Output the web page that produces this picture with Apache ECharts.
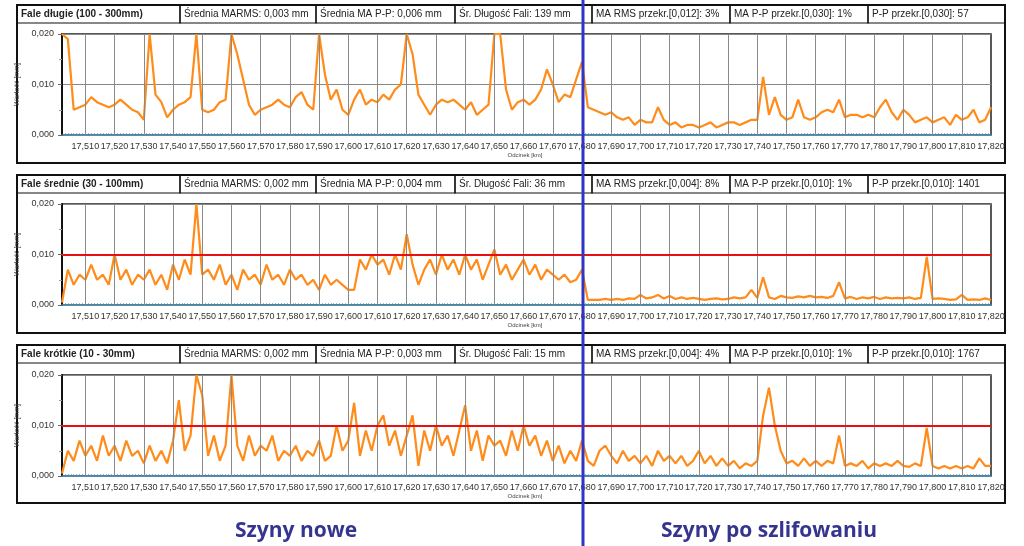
<!DOCTYPE html>
<html>
<head>
<meta charset="UTF-8"/>
<script src="https://cdn.jsdelivr.net/npm/echarts@6/dist/echarts.min.js"></script>
<style>
  html, body { margin: 0; padding: 0; background: #fff; }
  #main { width: 1024px; height: 546px; }
</style>
</head>
<body>
<div id="main"></div>
<script>
  // próbki co 2 m od 17,502 km, wartości w µm (0,001 mm)
  var startKm = 17.502
  var stepKm = 0.002

  var faleDlugie = [
    20, 19, 5, 5.5, 6, 7.5, 6.5, 6, 5.5, 6,
    7, 6, 5, 4.5, 3, 20, 8, 6.5, 3.5, 5,
    6, 6.5, 7.5, 20, 5, 4.5, 5, 6.5, 7, 20,
    16, 11, 6, 4, 5, 5.5, 6, 7, 6, 5.5,
    7.5, 8.5, 6, 5, 20, 12, 7, 9, 5, 4,
    7, 9, 6, 7, 6.5, 8, 7, 9, 10, 20,
    16, 8, 6, 4, 6, 7, 6.5, 7, 6, 5,
    6.5, 4, 5, 6, 20, 20, 9, 5, 6.5, 7,
    6, 7, 9, 13, 10, 6.5, 8, 7.5, 11, 14.5,
    5.5, 5, 4.5, 4, 4.5, 3.5, 3, 3.5, 2, 3,
    2.5, 2.5, 5.5, 3, 2, 2.5, 1.5, 2, 2, 1.5,
    2, 2.5, 1.5, 2, 2.5, 2.5, 2, 2.5, 3, 3,
    11.5, 4, 7.5, 4, 3, 3.5, 7, 3.5, 3, 3.5,
    4.5, 5, 4.5, 7, 3.5, 4, 4, 3.5, 4, 3.5,
    5.5, 7, 4.5, 3, 5, 4, 2.5, 3, 3.5, 2.5,
    3, 3.5, 2, 4, 3, 3.5, 5, 2.5, 3, 5.5
  ]
  var faleSrednie = [
    0.5, 7, 4, 6, 5, 8, 5, 6, 4, 10,
    5, 7, 4, 6, 5, 7, 4, 6, 3, 8,
    5, 9, 6, 20, 6, 7, 5, 8, 4, 6,
    3, 7, 5, 6, 4, 8, 5, 6, 4, 7,
    5, 6, 4, 5, 3, 6, 4, 5, 4, 3,
    3, 9, 7, 10, 8, 9, 6, 10, 7, 14,
    8, 4, 7, 9, 6, 10, 7, 9, 6, 10,
    7, 9, 5, 8, 11, 6, 8, 5, 7, 9,
    6, 8, 5, 7, 6, 5, 6, 4.5, 5, 7,
    1, 1, 1, 1.2, 1, 1.2, 1, 1.3, 1.2, 2,
    1.3, 1.5, 2, 1.3, 1.8, 1.2, 1.5, 1.2, 1.4, 1.2,
    1, 1.2, 1.3, 1.1, 1.2, 1.5, 1.3, 1.5, 3, 1.4,
    5.5, 1.5, 1.2, 1.8, 1.5, 1.4, 1.7, 1.5, 1.8, 1.5,
    1.6, 1.4, 1.8, 4.5, 1.3, 1.6, 1.2, 1.5, 1.3, 1.6,
    1.2, 1.5, 1.3, 1.4, 1.3, 1.5, 1.2, 1.4, 9.5, 1.2,
    1.3, 1.2, 1, 1.1, 2, 1, 1.1, 1, 1.3, 1
  ]
  var faleKrotkie = [
    0.5, 5, 3, 7, 4, 6, 3, 8, 4, 6,
    3, 7, 4, 5, 2.5, 6, 3, 5, 2.5, 7,
    15, 5, 8, 20, 16, 4, 8, 3, 6, 20,
    6, 3, 8, 4, 6, 5, 8, 3, 5, 4,
    6, 3, 5, 4, 7, 3, 4, 10, 5, 7,
    14.5, 4, 9, 5, 10, 12, 6, 9, 4, 8,
    12, 2, 9, 5, 10, 6, 8, 4, 9, 14,
    5, 9, 3, 8, 6, 7, 4, 9, 5, 10,
    6, 8, 4, 7, 3, 6, 2.5, 5, 3, 7,
    3, 2, 5, 6, 4, 2.5, 5, 3, 4, 2.5,
    4, 2, 5, 3, 4, 2.5, 4, 2, 3, 5,
    2.5, 4, 2, 3.5, 2, 3, 1.5, 2.5, 2, 3,
    12, 17.5, 10, 5, 2.5, 3, 2, 3.5, 2, 3,
    2, 3, 2.5, 8, 2, 2.5, 2, 3, 1.5, 2.5,
    2, 2.5, 2, 3, 2, 1.8, 2.5, 2, 9.5, 2,
    1.5, 2, 1.5, 2, 1.5, 2, 1.5, 3.5, 2, 2
  ]

  var xTicks = [17.51, 17.52, 17.53, 17.54, 17.55, 17.56, 17.57, 17.58, 17.59, 17.60,
    17.61, 17.62, 17.63, 17.64, 17.65, 17.66, 17.67, 17.68, 17.69, 17.70,
    17.71, 17.72, 17.73, 17.74, 17.75, 17.76, 17.77, 17.78, 17.79, 17.80,
    17.81, 17.82]

  var panele = [
    { tytul: 'Fale długie (100 - 300mm)', dane: faleDlugie, prog: null,
      pola: ['Średnia MARMS: 0,003 mm', 'Średnia MA P-P: 0,006 mm', 'Śr. Długość Fali: 139 mm',
             'MA RMS przekr.[0,012]: 3%', 'MA P-P przekr.[0,030]: 1%', 'P-P przekr.[0,030]: 57'] },
    { tytul: 'Fale średnie (30 - 100mm)', dane: faleSrednie, prog: 0.010,
      pola: ['Średnia MARMS: 0,002 mm', 'Średnia MA P-P: 0,004 mm', 'Śr. Długość Fali: 36 mm',
             'MA RMS przekr.[0,004]: 8%', 'MA P-P przekr.[0,010]: 1%', 'P-P przekr.[0,010]: 1401'] },
    { tytul: 'Fale krótkie (10 - 30mm)', dane: faleKrotkie, prog: 0.010,
      pola: ['Średnia MARMS: 0,002 mm', 'Średnia MA P-P: 0,003 mm', 'Śr. Długość Fali: 15 mm',
             'MA RMS przekr.[0,004]: 4%', 'MA P-P przekr.[0,010]: 1%', 'P-P przekr.[0,010]: 1767'] }
  ]

  var boxTop = [5, 175, 345]
  var gridTop = [34, 204, 375]
  var cellX = [17, 180, 316, 455, 592, 730, 868, 1005]
  var fontFam = 'Liberation Sans, Arial, sans-serif'

  var minorTicks = []
  for (var m = 17503; m < 17820; m++) minorTicks.push(m / 1000)

  var grids = [], xAxes = [], yAxes = [], series = [], graphics = []

  panele.forEach(function (p, k) {
    var top = boxTop[k]
    graphics.push({ type: 'rect', shape: { x: cellX[0], y: top, width: cellX[7] - cellX[0], height: 158 },
      style: { fill: 'none', stroke: '#111', lineWidth: 2 } })
    for (var c = 0; c < 7; c++) {
      graphics.push({ type: 'rect', shape: { x: cellX[c], y: top, width: cellX[c + 1] - cellX[c], height: 18 },
        style: { fill: 'none', stroke: '#111', lineWidth: 1.2 } })
      graphics.push({ type: 'text', x: cellX[c] + 4, y: top + 9,
        style: { text: c === 0 ? p.tytul : p.pola[c - 1], fill: '#222', fontSize: 10,
          fontWeight: c === 0 ? 'bold' : 'normal', fontFamily: fontFam, verticalAlign: 'middle' } })
    }
    graphics.push({ type: 'text', x: 525, y: gridTop[k] + 118,
      style: { text: 'Odcinek [km]', fill: '#444', fontSize: 6, fontFamily: fontFam, align: 'center' } })

    grids.push({ left: 62, right: 33, top: gridTop[k], height: 101, show: true,
      borderColor: '#222', borderWidth: 1.5 })
    xAxes.push({ type: 'value', gridIndex: k, min: startKm, max: 17.82,
      axisLine: { onZero: false, lineStyle: { color: '#4a8fb5', width: 1.5 } },
      axisTick: { show: true, inside: true, length: 2, customValues: minorTicks,
        lineStyle: { color: '#4a8fb5', width: 0.6 } },
      axisLabel: { customValues: xTicks, fontSize: 9, color: '#333', fontFamily: fontFam, margin: 7,
        formatter: function (v) { return v.toFixed(3).replace('.', ',') } },
      splitLine: { show: false } })
    yAxes.push({ type: 'value', gridIndex: k, min: 0, max: 0.02, interval: 0.01,
      name: 'Wartość [mm]', nameLocation: 'middle', nameGap: 32,
      nameTextStyle: { fontSize: 7, color: '#444', fontFamily: fontFam },
      axisLine: { show: true, lineStyle: { color: '#111', width: 2 } },
      axisTick: { show: true, length: 4, lineStyle: { color: '#666' } },
      minorTick: { show: true, splitNumber: 2, length: 3, lineStyle: { color: '#999' } },
      axisLabel: { fontSize: 9, color: '#333', fontFamily: fontFam,
        formatter: function (v) { return v.toFixed(3).replace('.', ',') } },
      splitLine: { show: true, lineStyle: { color: '#888', width: 1 } } })

    var pts = p.dane.map(function (v, i) { return [startKm + i * stepKm, v / 1000] })
    var siatka = xTicks.slice(0, 31).map(function (x) { return { xAxis: x } })
    series.push({ type: 'line', xAxisIndex: k, yAxisIndex: k, data: [], silent: true,
      markLine: { silent: true, symbol: 'none', label: { show: false }, animation: false,
        lineStyle: { color: '#8a8a8a', width: 1, type: 'solid' }, data: siatka } })
    series.push({ type: 'line', xAxisIndex: k, yAxisIndex: k, data: pts, showSymbol: false,
      clip: true, animation: false, lineStyle: { color: '#ff8c1a', width: 2.2 },
      markLine: p.prog ? { silent: true, symbol: 'none', label: { show: false }, animation: false,
        lineStyle: { color: '#e81010', width: 2, type: 'solid' }, data: [{ yAxis: p.prog }] } : undefined })
  })

  graphics.push({ type: 'line', shape: { x1: 583, y1: 0, x2: 583, y2: 546 },
    style: { stroke: '#3434c4', lineWidth: 3 }, z: 100 })
  graphics.push({ type: 'text', x: 296, y: 531,
    style: { text: 'Szyny nowe', fill: '#35358f', fontSize: 21, fontWeight: 'bold',
      fontFamily: 'Open Sans, sans-serif', align: 'center', verticalAlign: 'middle' } })
  graphics.push({ type: 'text', x: 769, y: 531,
    style: { text: 'Szyny po szlifowaniu', fill: '#35358f', fontSize: 21, fontWeight: 'bold',
      fontFamily: 'Open Sans, sans-serif', align: 'center', verticalAlign: 'middle' } })

  var myChart = echarts.init(document.getElementById('main'))
  myChart.setOption({
    animation: false,
    grid: grids,
    xAxis: xAxes,
    yAxis: yAxes,
    series: series,
    graphic: graphics
  })
</script>
</body>
</html>
